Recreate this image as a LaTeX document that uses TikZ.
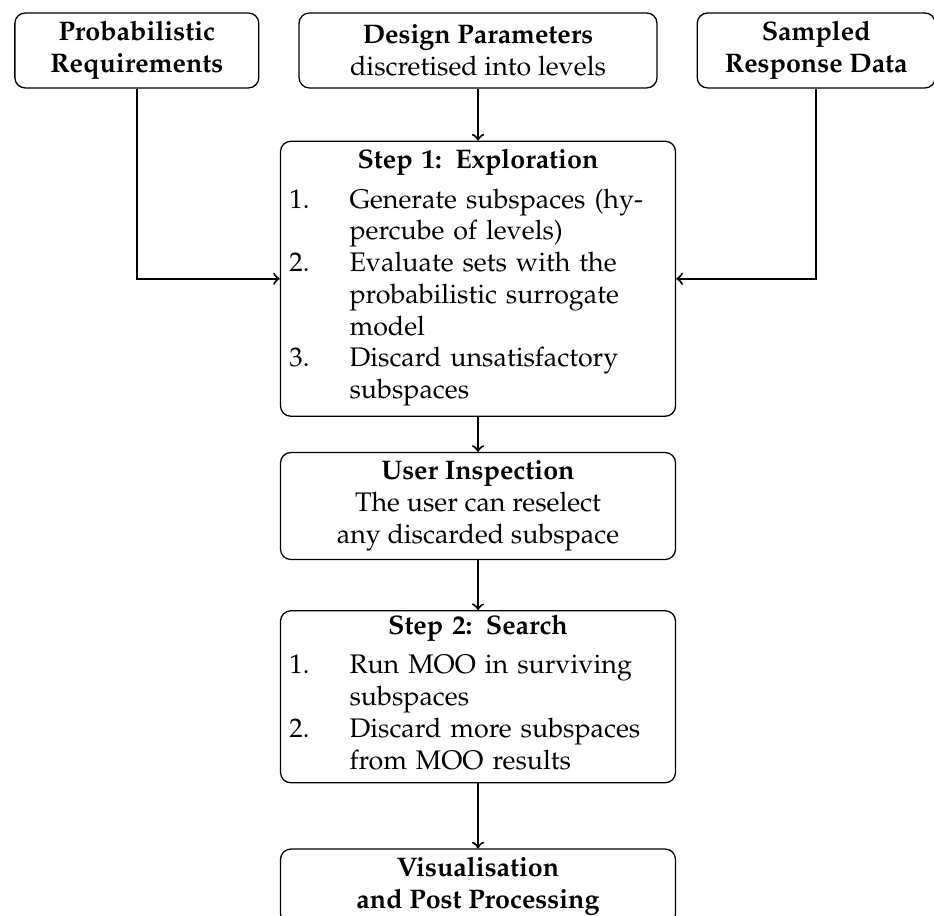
\documentclass[tikz,border=0pt]{standalone}
\usepackage[T1]{fontenc}
\usepackage{mathpazo}
\usetikzlibrary{positioning}

\begin{document}
\begin{tikzpicture}[
        node distance=0.53cm,
        font=\fontsize{10.4pt}{12.3pt}\selectfont,
        box/.style={rectangle, draw, line width=0.5pt, rounded corners=4pt, align=center, inner xsep=0.12cm, inner ysep=0pt},
        source/.style={box, minimum width=3.32cm, minimum height=1.02cm},
        stage/.style={box, minimum width=5.376cm},
        flow/.style={->, thick}
    ]
        \useasboundingbox (-6.506,0.687) rectangle (6.206,-11.780);

        % inputs
        \node[box, minimum width=4.872cm, minimum height=1.02cm] (DESIGN) at (0,0) {\textbf{Design Parameters}\\discretised into levels};
        \node[source, left=of DESIGN] (PROBREQ) {\textbf{Probabilistic}\\\textbf{Requirements}};
        \node[source, right=of DESIGN, minimum width=3.24cm] (SAMPLED) {\textbf{Sampled}\\\textbf{Response Data}};

        % steps
        \node[stage, text width=5.136cm, minimum height=3.743cm, below=0.708cm of DESIGN] (EXPLORE) {\textbf{Step 1: Exploration}\\[3pt]
            \begin{tabular}{@{}p{0.82cm}@{}p{4.316cm}@{}}
                1. & Generate subspaces (hy-\\
                   & percube of levels)\\
                2. & Evaluate sets with the\\
                   & probabilistic surrogate\\
                   & model\\
                3. & Discard unsatisfactory\\
                   & subspaces
            \end{tabular}};
        \node[stage, minimum height=1.456cm, below=0.476cm of EXPLORE] (INSPECT) {\textbf{User Inspection}\\The user can reselect\\any discarded subspace};
        \node[stage, text width=5.136cm, minimum height=2.341cm, below=0.68cm of INSPECT] (SEARCH) {\textbf{Step 2: Search}\\[3pt]
            \begin{tabular}{@{}p{0.82cm}@{}p{4.316cm}@{}}
                1. & Run MOO in surviving\\
                   & subspaces\\
                2. & Discard more subspaces\\
                   & from MOO results
            \end{tabular}};
        \node[stage, minimum height=1.021cm, below=0.885cm of SEARCH] (VISUAL) {\textbf{Visualisation}\\\textbf{and Post Processing}};

        \draw[flow] (DESIGN) -- (EXPLORE);
        \draw[flow] (PROBREQ) |- (EXPLORE);
        \draw[flow] (SAMPLED) |- (EXPLORE);
        \draw[flow] (EXPLORE) -- (INSPECT);
        \draw[flow] (INSPECT) -- (SEARCH);
        \draw[flow] (SEARCH) -- (VISUAL);
    \end{tikzpicture}
\end{document}
